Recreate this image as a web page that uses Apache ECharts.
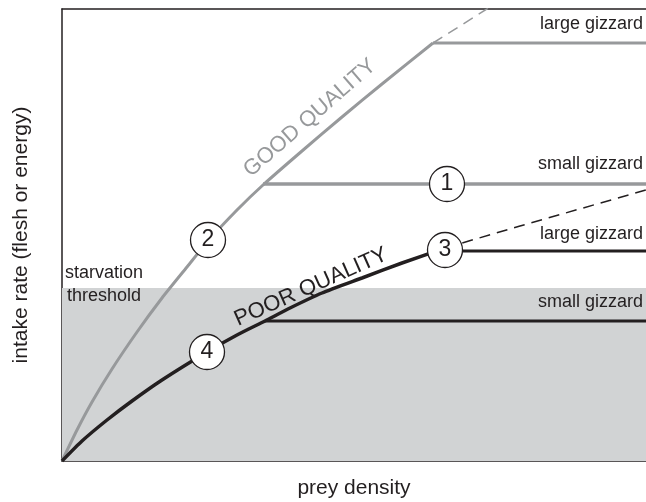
<!DOCTYPE html>
<html>
<head>
<meta charset="utf-8">
<script src="https://cdn.jsdelivr.net/npm/echarts@6/dist/echarts.min.js"></script>
<style>html,body{margin:0;padding:0;background:#fff}#c{width:646px;height:502px}</style>
</head>
<body>
<div id="c"></div>
<script>
// Abstract units: x = prey density (0..584), y = intake rate (0..452)
const goodX = [0, 15, 30, 50, 75, 100, 125, 146, 175, 201, 240, 280, 320, 371];
const goodY = [0, 31, 59, 92, 129, 163, 194, 220, 251, 276, 310, 344, 377, 418];
const goodDashX = [371, 398, 428];
const goodDashY = [418, 435, 454];
const poorX = [0, 20, 45, 70, 100, 145, 175, 203, 228, 260, 300, 340, 383];
const poorY = [0, 20, 41, 60, 81, 109, 126, 140, 153, 168, 183, 198, 213];
const poorDashX = [383, 458, 584];
const poorDashY = [213, 235, 271];
const plateauGoodLarge = {x0: 371, x1: 584, y: 418};
const plateauGoodSmall = {x0: 201, x1: 584, y: 277};
const plateauPoorLarge = {x0: 383, x1: 584, y: 210};
const plateauPoorSmall = {x0: 203, x1: 584, y: 140};
const starvationThreshold = 173;
const circleLabels = ['1', '2', '3', '4'];
const circleX = [385, 146, 383, 145];
const circleY = [277, 221, 211, 109];
const xMax = 584, yMax = 452;

const GRAY = '#97999b', BLACK = '#231f20', SHADE = '#d1d3d4';
const FONT = 'Liberation Sans, Arial, sans-serif';
const pairs = (xs, ys) => xs.map((x, i) => [x, ys[i]]);
const flat = p => [[p.x0, p.y], [p.x1, p.y]];

const chart = echarts.init(document.getElementById('c'), null, {renderer: 'canvas'});
chart.setOption({
  animation: false,
  grid: {left: 62, right: 0, top: 9, bottom: 41, containLabel: false, outerBoundsMode: 'none'},
  xAxis: [
    {type: 'value', min: 0, max: xMax, axisLine: {show: true, lineStyle: {color: BLACK, width: 1.5}},
     axisTick: {show: false}, axisLabel: {show: false}, splitLine: {show: false},
     name: 'prey density', nameLocation: 'middle', nameGap: 17,
     nameTextStyle: {fontFamily: FONT, fontSize: 21, color: BLACK}},
    {type: 'value', min: 0, max: xMax, position: 'top', axisLine: {show: true, lineStyle: {color: BLACK, width: 1.5}},
     axisTick: {show: false}, axisLabel: {show: false}, splitLine: {show: false}}
  ],
  yAxis: {type: 'value', min: 0, max: yMax, axisLine: {show: true, lineStyle: {color: BLACK, width: 1.5}},
    axisTick: {show: false}, axisLabel: {show: false}, splitLine: {show: false},
    name: 'intake rate (flesh or energy)', nameLocation: 'middle', nameGap: 30,
    nameTextStyle: {fontFamily: FONT, fontSize: 21, color: BLACK}},
  series: [
    {type: 'line', data: [], z: 1, markArea: {silent: true, itemStyle: {color: SHADE},
      data: [[{coord: [0, 0]}, {coord: [xMax, starvationThreshold]}]]}},
    {type: 'line', data: pairs(goodX, goodY), smooth: 0.2, showSymbol: false,
      lineStyle: {color: GRAY, width: 3}, z: 3},
    {type: 'line', data: pairs(goodDashX, goodDashY), showSymbol: false,
      lineStyle: {color: GRAY, width: 1.5, type: [11, 7]}, z: 3},
    {type: 'line', data: flat(plateauGoodLarge), showSymbol: false, lineStyle: {color: GRAY, width: 3}, z: 3},
    {type: 'line', data: flat(plateauGoodSmall), showSymbol: false, lineStyle: {color: GRAY, width: 3.5}, z: 3},
    {type: 'line', data: pairs(poorX, poorY), smooth: 0.2, showSymbol: false,
      lineStyle: {color: BLACK, width: 3.5}, z: 4},
    {type: 'line', data: pairs(poorDashX, poorDashY), showSymbol: false,
      lineStyle: {color: BLACK, width: 1.5, type: [11, 7]}, z: 4},
    {type: 'line', data: flat(plateauPoorLarge), showSymbol: false, lineStyle: {color: BLACK, width: 3}, z: 4},
    {type: 'line', data: flat(plateauPoorSmall), showSymbol: false, lineStyle: {color: BLACK, width: 3}, z: 4},
    {type: 'scatter', z: 10, symbol: 'circle', symbolSize: 35,
      itemStyle: {color: '#fff', borderColor: BLACK, borderWidth: 1.3, opacity: 1},
      label: {show: true, position: 'inside', formatter: p => p.data[2], fontFamily: FONT, fontSize: 23, color: BLACK},
      data: circleX.map((x, i) => [x, circleY[i], circleLabels[i]])}
  ],
  graphic: [
    {type: 'text', z: 50, right: 3, top: 15, style: {text: 'large gizzard', font: '18px ' + FONT, fill: BLACK}},
    {type: 'text', z: 50, right: 3, top: 155, style: {text: 'small gizzard', font: '18px ' + FONT, fill: BLACK}},
    {type: 'text', z: 50, right: 3, top: 225, style: {text: 'large gizzard', font: '18px ' + FONT, fill: BLACK}},
    {type: 'text', z: 50, right: 3, top: 293, style: {text: 'small gizzard', font: '18px ' + FONT, fill: BLACK}},
    {type: 'text', z: 50, left: 65, top: 264, style: {text: 'starvation', font: '18px ' + FONT, fill: BLACK}},
    {type: 'text', z: 50, left: 67, top: 287, style: {text: 'threshold', font: '18px ' + FONT, fill: BLACK}},
    {type: 'text', z: 50, x: 310, y: 118, rotation: 41 * Math.PI / 180,
      style: {text: 'GOOD QUALITY', font: '22px ' + FONT, fill: GRAY, align: 'center', verticalAlign: 'middle'}},
    {type: 'text', z: 50, x: 311, y: 287, rotation: 24 * Math.PI / 180,
      style: {text: 'POOR QUALITY', font: '22px ' + FONT, fill: BLACK, align: 'center', verticalAlign: 'middle'}}
  ]
});
</script>
</body>
</html>
